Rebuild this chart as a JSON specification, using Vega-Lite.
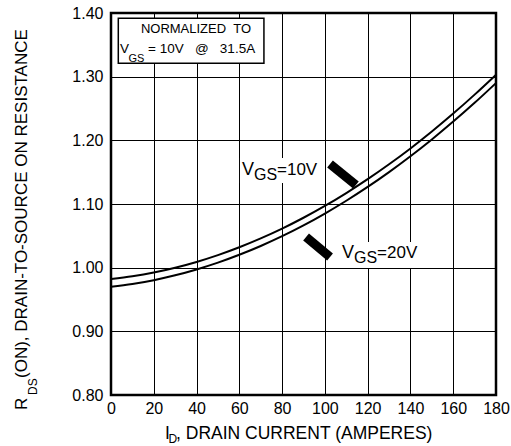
{
  "$schema": "https://vega.github.io/schema/vega-lite/v6.json",
  "width": 385,
  "height": 382,
  "autosize": {"type": "none"},
  "padding": {"left": 111, "top": 13, "right": 15, "bottom": 51},
  "config": {
    "font": "Liberation Sans",
    "view": {"stroke": "black", "strokeWidth": 2.5},
    "axis": {
      "grid": true,
      "gridColor": "black",
      "gridWidth": 1,
      "gridOpacity": 1,
      "ticks": false,
      "domain": false,
      "labelFontSize": 16,
      "labelColor": "black",
      "labelFont": "Liberation Sans",
      "labelFlush": false,
      "labelOverlap": false
    }
  },
  "layer": [
    {
      "data": {
        "values": [
          {"current": 0, "resistance": 0.982, "series": "VGS=10V"},
          {"current": 10, "resistance": 0.9864, "series": "VGS=10V"},
          {"current": 20, "resistance": 0.9923, "series": "VGS=10V"},
          {"current": 30, "resistance": 0.9999, "series": "VGS=10V"},
          {"current": 40, "resistance": 1.009, "series": "VGS=10V"},
          {"current": 50, "resistance": 1.0197, "series": "VGS=10V"},
          {"current": 60, "resistance": 1.032, "series": "VGS=10V"},
          {"current": 70, "resistance": 1.0459, "series": "VGS=10V"},
          {"current": 80, "resistance": 1.0613, "series": "VGS=10V"},
          {"current": 90, "resistance": 1.0784, "series": "VGS=10V"},
          {"current": 100, "resistance": 1.097, "series": "VGS=10V"},
          {"current": 110, "resistance": 1.1172, "series": "VGS=10V"},
          {"current": 120, "resistance": 1.139, "series": "VGS=10V"},
          {"current": 130, "resistance": 1.1624, "series": "VGS=10V"},
          {"current": 140, "resistance": 1.1873, "series": "VGS=10V"},
          {"current": 150, "resistance": 1.2139, "series": "VGS=10V"},
          {"current": 160, "resistance": 1.242, "series": "VGS=10V"},
          {"current": 170, "resistance": 1.2718, "series": "VGS=10V"},
          {"current": 180, "resistance": 1.303, "series": "VGS=10V"},
          {"current": 0, "resistance": 0.97, "series": "VGS=20V"},
          {"current": 10, "resistance": 0.9744, "series": "VGS=20V"},
          {"current": 20, "resistance": 0.9804, "series": "VGS=20V"},
          {"current": 30, "resistance": 0.988, "series": "VGS=20V"},
          {"current": 40, "resistance": 0.9972, "series": "VGS=20V"},
          {"current": 50, "resistance": 1.0079, "series": "VGS=20V"},
          {"current": 60, "resistance": 1.0202, "series": "VGS=20V"},
          {"current": 70, "resistance": 1.034, "series": "VGS=20V"},
          {"current": 80, "resistance": 1.0494, "series": "VGS=20V"},
          {"current": 90, "resistance": 1.0664, "series": "VGS=20V"},
          {"current": 100, "resistance": 1.085, "series": "VGS=20V"},
          {"current": 110, "resistance": 1.1051, "series": "VGS=20V"},
          {"current": 120, "resistance": 1.1268, "series": "VGS=20V"},
          {"current": 130, "resistance": 1.1501, "series": "VGS=20V"},
          {"current": 140, "resistance": 1.175, "series": "VGS=20V"},
          {"current": 150, "resistance": 1.2014, "series": "VGS=20V"},
          {"current": 160, "resistance": 1.2294, "series": "VGS=20V"},
          {"current": 170, "resistance": 1.2589, "series": "VGS=20V"},
          {"current": 180, "resistance": 1.29, "series": "VGS=20V"}
        ]
      },
      "mark": {"type": "line", "color": "black", "strokeWidth": 2, "interpolate": "monotone"},
      "encoding": {
        "x": {
          "field": "current", "type": "quantitative",
          "scale": {"domain": [0, 180], "nice": false, "zero": false},
          "axis": {"values": [0, 20, 40, 60, 80, 100, 120, 140, 160, 180], "title": null, "labelPadding": 5}
        },
        "y": {
          "field": "resistance", "type": "quantitative",
          "scale": {"domain": [0.8, 1.4], "nice": false, "zero": false},
          "axis": {"values": [0.8, 0.9, 1.0, 1.1, 1.2, 1.3, 1.4], "format": ".2f", "title": null, "labelPadding": 8}
        },
        "detail": {"field": "series"}
      }
    },
    {
      "data": {"values": [{}]},
      "mark": {"type": "rect", "fill": "white", "stroke": "black", "strokeWidth": 1.5},
      "encoding": {
        "x": {"datum": 3.41, "type": "quantitative"},
        "x2": {"datum": 71.5},
        "y": {"datum": 1.3917, "type": "quantitative"},
        "y2": {"datum": 1.321}
      }
    },
    {
      "data": {"values": [{}]},
      "mark": {"type": "rect", "fill": "white"},
      "encoding": {
        "x": {"datum": 60.3, "type": "quantitative"},
        "x2": {"datum": 97.7},
        "y": {"datum": 1.1722, "type": "quantitative"},
        "y2": {"datum": 1.133}
      }
    },
    {
      "data": {"values": [{}]},
      "mark": {"type": "rect", "fill": "white"},
      "encoding": {
        "x": {"datum": 106.1, "type": "quantitative"},
        "x2": {"datum": 145.4},
        "y": {"datum": 1.0403, "type": "quantitative"},
        "y2": {"datum": 0.9995}
      }
    },
    {
      "data": {"values": [{}]},
      "mark": {"type": "rule", "color": "black", "strokeWidth": 9, "strokeCap": "butt"},
      "encoding": {
        "x": {"datum": 102.4, "type": "quantitative"},
        "x2": {"datum": 114.5},
        "y": {"datum": 1.1628, "type": "quantitative"},
        "y2": {"datum": 1.1298}
      }
    },
    {
      "data": {"values": [{}]},
      "mark": {"type": "rule", "color": "black", "strokeWidth": 9, "strokeCap": "butt"},
      "encoding": {
        "x": {"datum": 91.2, "type": "quantitative"},
        "x2": {"datum": 102.4},
        "y": {"datum": 1.0482, "type": "quantitative"},
        "y2": {"datum": 1.0167}
      }
    },
    {
      "data": {"values": [{}]},
      "mark": {"type": "text", "text": "NORMALIZED\u00a0\u00a0TO", "fontSize": 13, "align": "center", "baseline": "alphabetic", "color": "black"},
      "encoding": {
        "x": {"datum": 39.75, "type": "quantitative"},
        "y": {"datum": 1.369, "type": "quantitative"}
      }
    },
    {
      "data": {"values": [{}]},
      "mark": {"type": "text", "text": "V", "fontSize": 13.5, "align": "left", "baseline": "alphabetic", "color": "black"},
      "encoding": {
        "x": {"datum": 4.21, "type": "quantitative"},
        "y": {"datum": 1.3376, "type": "quantitative"}
      }
    },
    {
      "data": {"values": [{}]},
      "mark": {"type": "text", "text": "GS", "fontSize": 11, "align": "left", "baseline": "alphabetic", "color": "black"},
      "encoding": {
        "x": {"datum": 8.18, "type": "quantitative"},
        "y": {"datum": 1.3235, "type": "quantitative"}
      }
    },
    {
      "data": {"values": [{}]},
      "mark": {"type": "text", "text": "= 10V\u00a0\u00a0\u00a0@\u00a0\u00a0\u00a031.5A", "fontSize": 13.5, "align": "left", "baseline": "alphabetic", "color": "black"},
      "encoding": {
        "x": {"datum": 17.3, "type": "quantitative"},
        "y": {"datum": 1.3376, "type": "quantitative"}
      }
    },
    {
      "data": {"values": [{}]},
      "mark": {"type": "text", "text": "V", "fontSize": 18, "align": "left", "baseline": "alphabetic", "color": "black"},
      "encoding": {
        "x": {"datum": 61.25, "type": "quantitative"},
        "y": {"datum": 1.1455, "type": "quantitative"}
      }
    },
    {
      "data": {"values": [{}]},
      "mark": {"type": "text", "text": "GS", "fontSize": 16, "align": "left", "baseline": "alphabetic", "color": "black"},
      "encoding": {
        "x": {"datum": 66.86, "type": "quantitative"},
        "y": {"datum": 1.1377, "type": "quantitative"}
      }
    },
    {
      "data": {"values": [{}]},
      "mark": {"type": "text", "text": "=10V", "fontSize": 17, "align": "left", "baseline": "alphabetic", "color": "black"},
      "encoding": {
        "x": {"datum": 77.61, "type": "quantitative"},
        "y": {"datum": 1.1455, "type": "quantitative"}
      }
    },
    {
      "data": {"values": [{}]},
      "mark": {"type": "text", "text": "V", "fontSize": 18, "align": "left", "baseline": "alphabetic", "color": "black"},
      "encoding": {
        "x": {"datum": 108.0, "type": "quantitative"},
        "y": {"datum": 1.0147, "type": "quantitative"}
      }
    },
    {
      "data": {"values": [{}]},
      "mark": {"type": "text", "text": "GS", "fontSize": 16, "align": "left", "baseline": "alphabetic", "color": "black"},
      "encoding": {
        "x": {"datum": 113.6, "type": "quantitative"},
        "y": {"datum": 1.0069, "type": "quantitative"}
      }
    },
    {
      "data": {"values": [{}]},
      "mark": {"type": "text", "text": "=20V", "fontSize": 17, "align": "left", "baseline": "alphabetic", "color": "black"},
      "encoding": {
        "x": {"datum": 124.4, "type": "quantitative"},
        "y": {"datum": 1.0147, "type": "quantitative"}
      }
    },
    {
      "data": {"values": [{}]},
      "mark": {"type": "text", "text": "I", "fontSize": 17.5, "align": "left", "baseline": "alphabetic", "color": "black"},
      "encoding": {
        "x": {"datum": 25.25, "type": "quantitative"},
        "y": {"datum": 0.7309, "type": "quantitative"}
      }
    },
    {
      "data": {"values": [{}]},
      "mark": {"type": "text", "text": "D", "fontSize": 12, "align": "left", "baseline": "alphabetic", "color": "black"},
      "encoding": {
        "x": {"datum": 26.9, "type": "quantitative"},
        "y": {"datum": 0.7246, "type": "quantitative"}
      }
    },
    {
      "data": {"values": [{}]},
      "mark": {"type": "text", "text": ", DRAIN CURRENT (AMPERES)", "fontSize": 17.5, "align": "left", "baseline": "alphabetic", "color": "black"},
      "encoding": {
        "x": {"datum": 30.4, "type": "quantitative"},
        "y": {"datum": 0.7309, "type": "quantitative"}
      }
    },
    {
      "data": {"values": [{}]},
      "mark": {"type": "text", "text": "R", "fontSize": 17, "angle": 270, "align": "left", "baseline": "alphabetic", "color": "black"},
      "encoding": {
        "x": {"datum": -39.27, "type": "quantitative"},
        "y": {"datum": 0.7764, "type": "quantitative"}
      }
    },
    {
      "data": {"values": [{}]},
      "mark": {"type": "text", "text": "DS", "fontSize": 12, "angle": 270, "align": "left", "baseline": "alphabetic", "color": "black"},
      "encoding": {
        "x": {"datum": -34.6, "type": "quantitative"},
        "y": {"datum": 0.8, "type": "quantitative"}
      }
    },
    {
      "data": {"values": [{}]},
      "mark": {"type": "text", "text": "(ON), DRAIN-TO-SOURCE ON RESISTANCE", "fontSize": 17, "angle": 270, "align": "left", "baseline": "alphabetic", "color": "black"},
      "encoding": {
        "x": {"datum": -39.27, "type": "quantitative"},
        "y": {"datum": 0.8267, "type": "quantitative"}
      }
    }
  ]
}
